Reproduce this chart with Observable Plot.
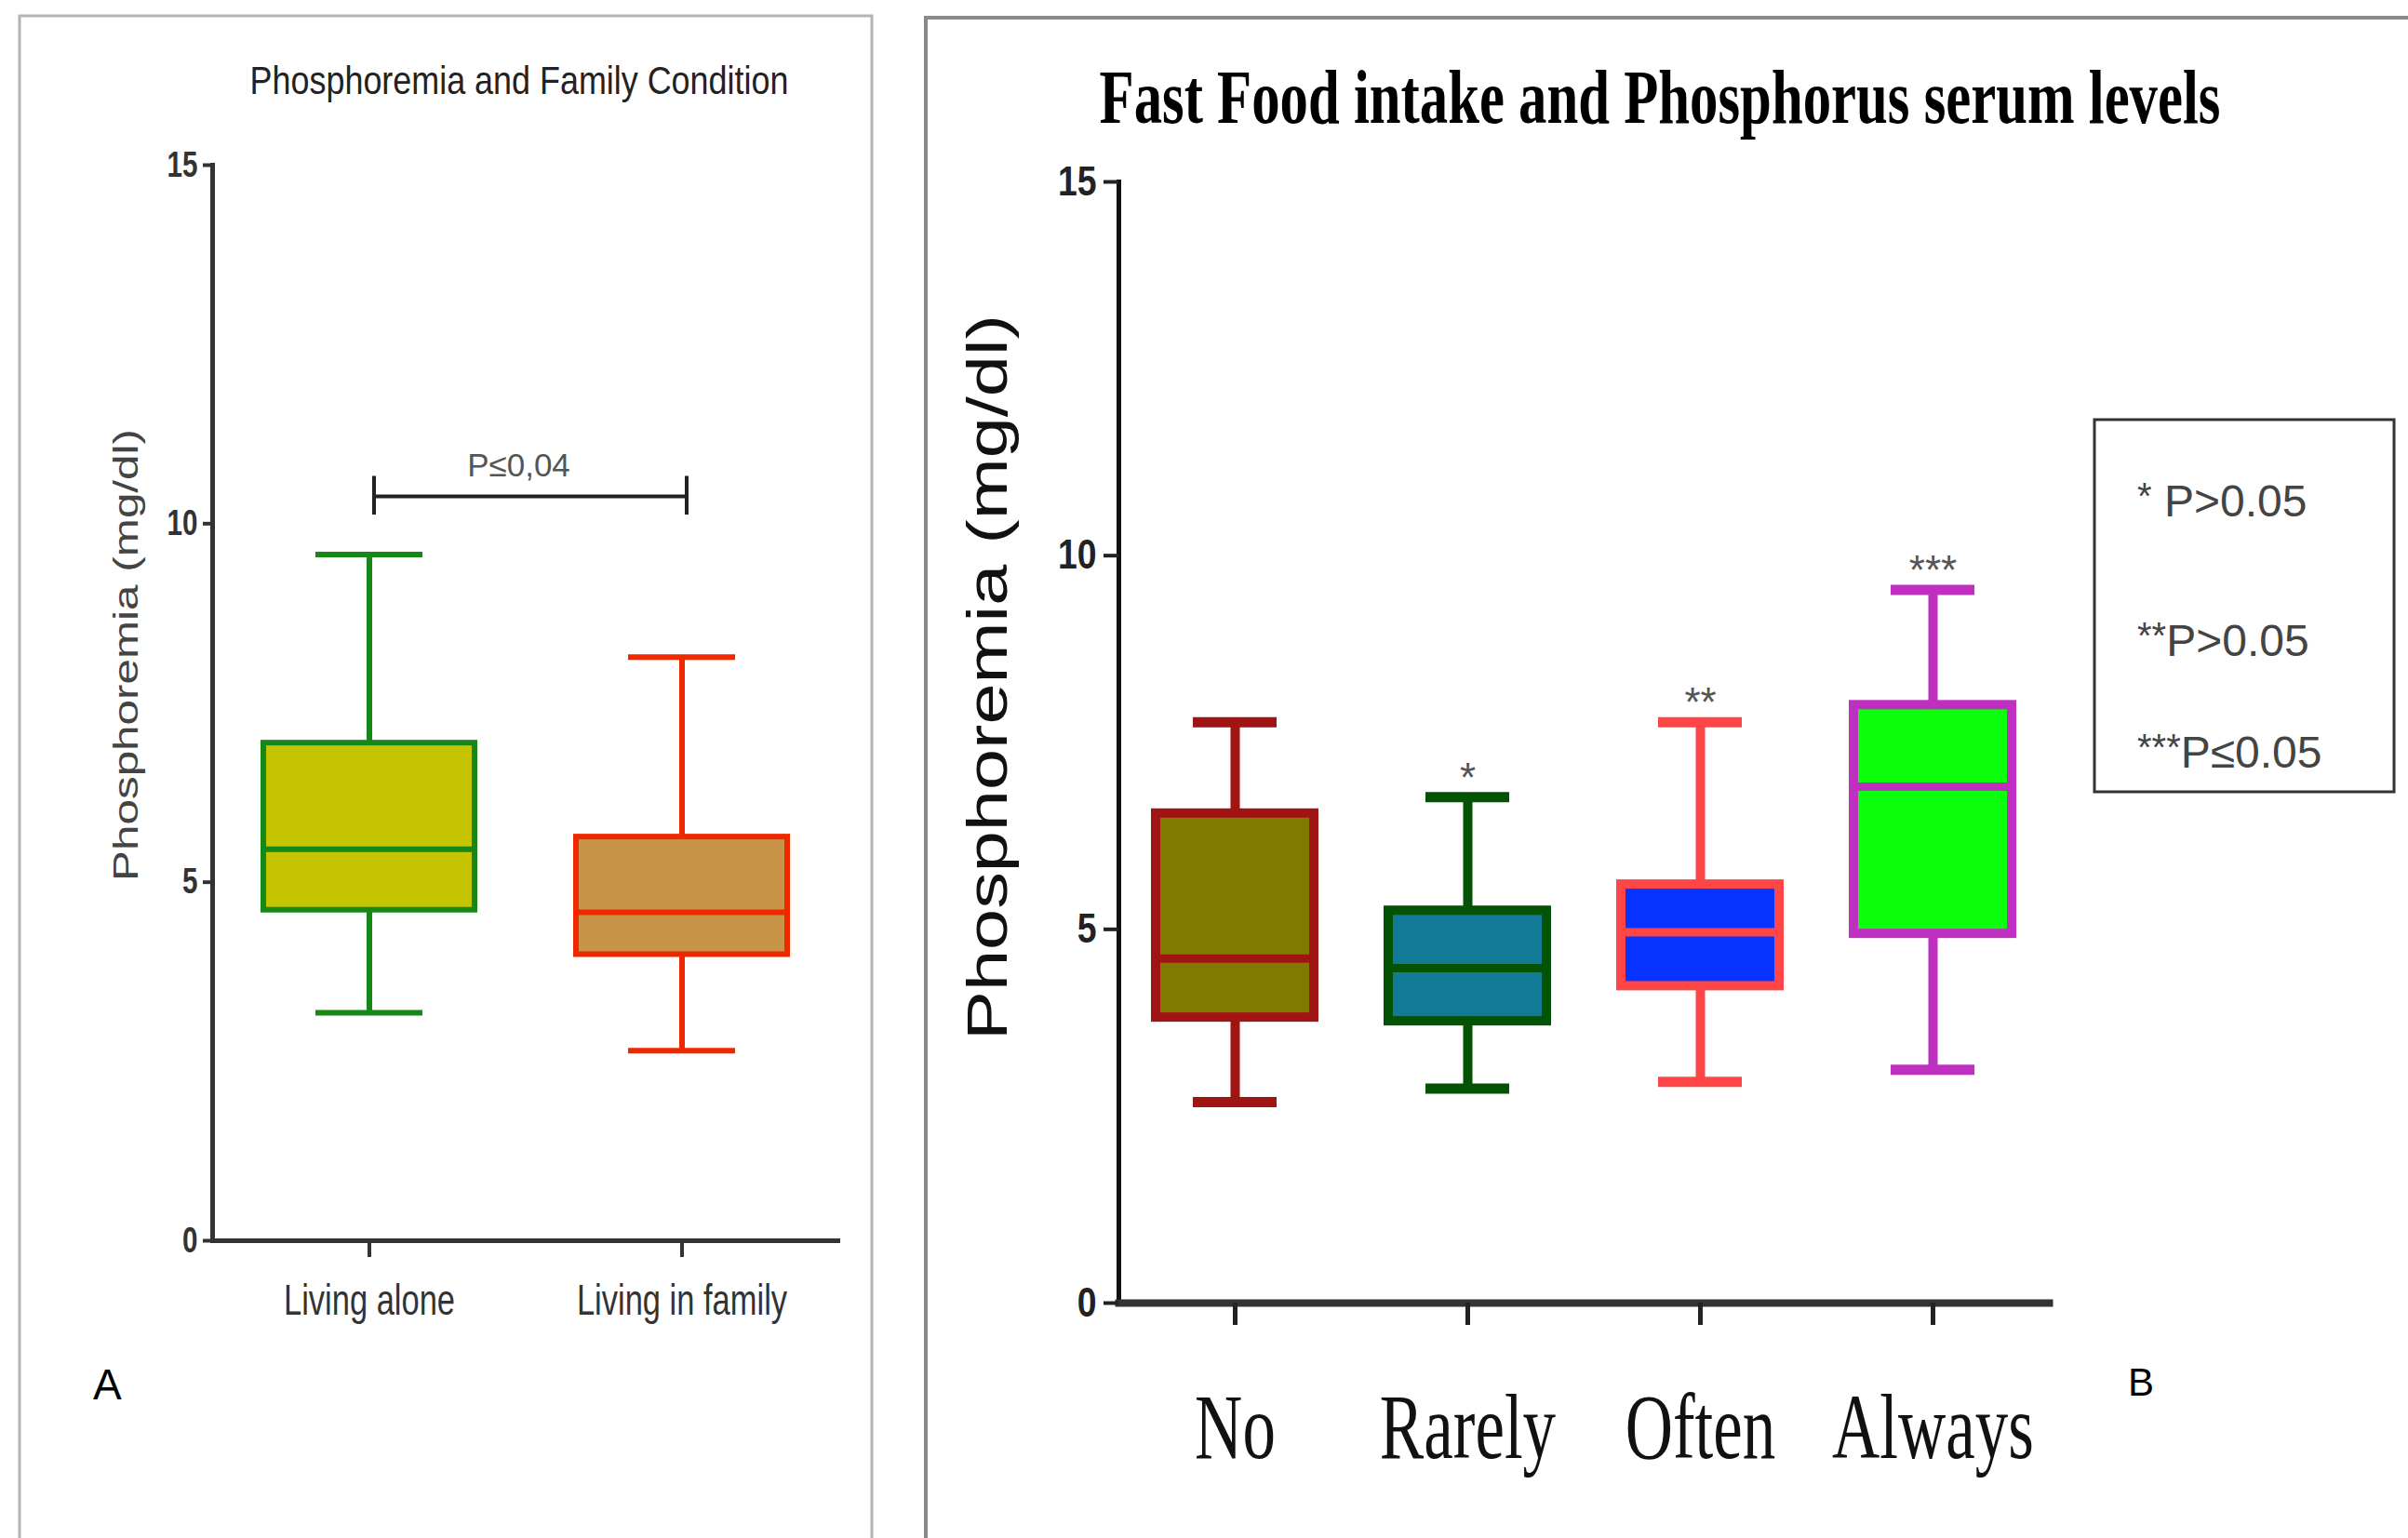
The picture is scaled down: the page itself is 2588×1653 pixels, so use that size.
<!DOCTYPE html>
<html>
<head>
<meta charset="utf-8">
<script src="https://cdn.jsdelivr.net/npm/d3@7"></script>
<script src="https://cdn.jsdelivr.net/npm/@observablehq/plot@0.6"></script>
<style>
  html, body { margin: 0; padding: 0; background: #fff; }
  #page { position: relative; width: 2588px; height: 1653px; overflow: hidden; background: #fff; }
  #page > svg { position: absolute; }
</style>
</head>
<body>
<div id="page"></div>
<script>
// ---------- Panel A data: Phosphoremia and Family Condition ----------
const familyCategories = ["Living alone", "Living in family"];
const familyLow    = [3.18, 2.65];
const familyQ1     = [4.61, 3.99];
const familyMedian = [5.46, 4.58];
const familyQ3     = [6.94, 5.63];
const familyHigh   = [9.57, 8.14];
const familyPText  = "P≤0,04";
const familyBracketValue = 10.38;

// ---------- Panel B data: Fast Food intake and Phosphorus serum levels ----------
const foodCategories = ["No", "Rarely", "Often", "Always"];
const foodLow    = [2.69, 2.87, 2.96, 3.12];
const foodQ1     = [3.82, 3.77, 4.24, 4.94];
const foodMedian = [4.61, 4.48, 4.96, 6.91];
const foodQ3     = [6.55, 5.25, 5.60, 8.00];
const foodHigh   = [7.77, 6.77, 7.77, 9.54];
const foodStars  = ["", "*", "**", "***"];
const legendStars = ["*", "**", "***"];
const legendTexts = [" P>0.05", "P>0.05", "P≤0.05"];

const yTicks = [0, 5, 10, 15];

// ---------- styles ----------
const familyFill   = {"Living alone": "#c4c400", "Living in family": "#c8944a"};
const familyStroke = {"Living alone": "#168816", "Living in family": "#f02800"};
const foodFill   = {No: "#807a00", Rarely: "#127a96", Often: "#0633ff", Always: "#0cff0c"};
const foodStroke = {No: "#a01414", Rarely: "#045204", Often: "#ff4646", Always: "#c030c0"};

const SANS = "'Liberation Sans', Arial, Helvetica, sans-serif";
const SERIF = "'Liberation Serif', 'Times New Roman', serif";

const famRows = familyCategories.map((cat, i) => ({
  cat, low: familyLow[i], q1: familyQ1[i], med: familyMedian[i], q3: familyQ3[i], high: familyHigh[i]
}));
const foodRows = foodCategories.map((cat, i) => ({
  cat, low: foodLow[i], q1: foodQ1[i], med: foodMedian[i], q3: foodQ3[i], high: foodHigh[i], star: foodStars[i]
}));

const page = document.getElementById("page");

// ---------- overlay: panel frames, titles, labels ----------
const ov = d3.create("svg")
  .attr("width", 2588).attr("height", 1653)
  .style("left", "0px").style("top", "0px");
page.appendChild(ov.node());

ov.append("rect").attr("x", 21).attr("y", 17).attr("width", 916).attr("height", 1720)
  .attr("fill", "none").attr("stroke", "#b4b4b4").attr("stroke-width", 3);
ov.append("rect").attr("x", 995).attr("y", 19).attr("width", 1700).attr("height", 1720)
  .attr("fill", "none").attr("stroke", "#8a8a8a").attr("stroke-width", 4);

// text fitted to a target length by horizontal scaling
function fittedText(str, x, y, target, rotate, attrs) {
  const t = ov.append("text").attr("text-anchor", "middle");
  for (const k in attrs) t.attr(k, attrs[k]);
  t.text(str);
  const len = t.node().getComputedTextLength();
  const sx = len > 0 ? target / len : 1;
  t.attr("transform", `translate(${x},${y})${rotate ? ` rotate(${rotate})` : ""} scale(${sx},1)`);
  return t;
}

// Panel A title
fittedText("Phosphoremia and Family Condition", 558, 101, 579, 0,
  {"font-family": SANS, "font-size": 42, fill: "#222"});
// Panel A y label
fittedText("Phosphoremia (mg/dl)", 148, 704, 486, -90,
  {"font-family": SANS, "font-size": 36, fill: "#444"});
// Panel A letter
ov.append("text").attr("x", 100).attr("y", 1504).attr("font-family", SANS).attr("font-size", 46)
  .attr("fill", "#000").text("A");

// Panel B title
fittedText("Fast Food intake and Phosphorus serum levels", 1784, 132, 1205, 0,
  {"font-family": SERIF, "font-weight": "bold", "font-size": 82, fill: "#000"});
// Panel B y label
fittedText("Phosphoremia (mg/dl)", 1082, 728, 780, -90,
  {"font-family": SANS, "font-size": 61, fill: "#111"});
// Panel B letter
ov.append("text").attr("x", 2287).attr("y", 1500).attr("font-family", SANS).attr("font-size", 42)
  .attr("fill", "#000").text("B");

// Panel B legend box
ov.append("rect").attr("x", 2251).attr("y", 451).attr("width", 322).attr("height", 400)
  .attr("fill", "none").attr("stroke", "#333").attr("stroke-width", 3);
const legendBaselines = [555, 705, 825];
legendStars.forEach((s, i) => {
  const t = ov.append("text").attr("x", 2297).attr("y", legendBaselines[i])
    .attr("font-family", SANS).attr("font-size", 48).attr("fill", "#444");
  t.append("tspan").attr("dy", -8).attr("font-size", 40).text(s);
  t.append("tspan").attr("dy", 8).text(legendTexts[i]);
});

// helper: horizontally condense axis tick labels
function condense(svg, label, sx) {
  svg.querySelectorAll(`[aria-label="${label}"] text`).forEach(t => {
    const tr = t.getAttribute("transform") || "";
    t.setAttribute("transform", tr + ` scale(${sx},1)`);
  });
}

const intFormat = d => String(d);

// ---------- Plot A ----------
const plotA = Plot.plot({
  width: 960, height: 1480,
  marginLeft: 228, marginRight: 60, marginTop: 177, marginBottom: 147,
  style: {background: "transparent", fontFamily: SANS, overflow: "visible"},
  x: {domain: familyCategories, paddingInner: 0.325, paddingOuter: 0.1625, axis: null},
  y: {domain: [0, 15], axis: null},
  color: {type: "identity"},
  marks: [
    Plot.ruleX(famRows, {x: "cat", y1: "low", y2: "high", stroke: d => familyStroke[d.cat], strokeWidth: 6}),
    Plot.tickY(famRows, {x: "cat", y: "low", stroke: d => familyStroke[d.cat], strokeWidth: 6, insetLeft: 56, insetRight: 56}),
    Plot.tickY(famRows, {x: "cat", y: "high", stroke: d => familyStroke[d.cat], strokeWidth: 6, insetLeft: 56, insetRight: 56}),
    Plot.barY(famRows, {x: "cat", y1: "q1", y2: "q3", fill: d => familyFill[d.cat], stroke: d => familyStroke[d.cat], strokeWidth: 6}),
    Plot.tickY(famRows, {x: "cat", y: "med", stroke: d => familyStroke[d.cat], strokeWidth: 6}),
    Plot.frame({anchor: "left", stroke: "#333", strokeWidth: 5}),
    Plot.frame({anchor: "bottom", stroke: "#333", strokeWidth: 5}),
    Plot.axisY(yTicks, {tickSize: 10, tickPadding: 6, tickFormat: intFormat, fontSize: 38, fontWeight: "bold", color: "#333", strokeWidth: 4, label: null}),
    Plot.axisX({tickSize: 18, tickPadding: 29, fontSize: 46, color: "#333", strokeWidth: 4, label: null}),
    Plot.link([{from: familyCategories[0], to: familyCategories[1], y: familyBracketValue}],
      {x1: "from", x2: "to", y1: "y", y2: "y", stroke: "#222", strokeWidth: 4, dx: 5}),
    Plot.ruleX(familyCategories, {x: d => d, y1: familyBracketValue - 0.26, y2: familyBracketValue + 0.28, stroke: "#222", strokeWidth: 4, dx: 5}),
    Plot.text([familyPText], {text: d => d, y: () => familyBracketValue + 0.43, fontSize: 35, fill: "#555", dx: -7})
  ]
});
plotA.style.left = "0px";
plotA.style.top = "0px";
condense(plotA, "y-axis tick label", 0.78);
condense(plotA, "x-axis tick label", 0.75);
page.appendChild(plotA);

// ---------- Plot B ----------
const plotB = Plot.plot({
  width: 1300, height: 1653,
  marginLeft: 202, marginRight: 98, marginTop: 195, marginBottom: 253,
  style: {background: "transparent", fontFamily: SANS, overflow: "visible"},
  x: {domain: foodCategories, paddingInner: 0.32, paddingOuter: 0.16, axis: null},
  y: {domain: [0, 15], axis: null},
  color: {type: "identity"},
  marks: [
    Plot.ruleX(foodRows, {x: "cat", y1: "low", y2: "high", stroke: d => foodStroke[d.cat], strokeWidth: 10}),
    Plot.tickY(foodRows, {x: "cat", y: "low", stroke: d => foodStroke[d.cat], strokeWidth: 11, insetLeft: 40, insetRight: 40}),
    Plot.tickY(foodRows, {x: "cat", y: "high", stroke: d => foodStroke[d.cat], strokeWidth: 11, insetLeft: 40, insetRight: 40}),
    Plot.barY(foodRows, {x: "cat", y1: "q1", y2: "q3", fill: d => foodFill[d.cat], stroke: d => foodStroke[d.cat], strokeWidth: 10}),
    Plot.tickY(foodRows, {x: "cat", y: "med", stroke: d => foodStroke[d.cat], strokeWidth: 9}),
    Plot.text(foodRows, {x: "cat", y: "high", text: "star", dy: -20, fontSize: 44, fill: "#555"}),
    Plot.frame({anchor: "left", stroke: "#111", strokeWidth: 5}),
    Plot.frame({anchor: "bottom", stroke: "#333", strokeWidth: 8}),
    Plot.axisY(yTicks, {tickSize: 16, tickPadding: 8, tickFormat: intFormat, fontSize: 44, fontWeight: "bold", color: "#222", strokeWidth: 4, label: null}),
    Plot.axisX({tickSize: 24, tickFormat: () => "", color: "#222", strokeWidth: 5, label: null}),
    Plot.axisX({tickSize: 0, tickPadding: 95, fontSize: 100, fontFamily: SERIF, color: "#111", label: null})
  ]
});
plotB.style.left = "1000px";
plotB.style.top = "0px";
condense(plotB, "y-axis tick label", 0.85);
condense(plotB, "x-axis tick label", 0.71);
page.appendChild(plotB);
</script>
</body>
</html>
